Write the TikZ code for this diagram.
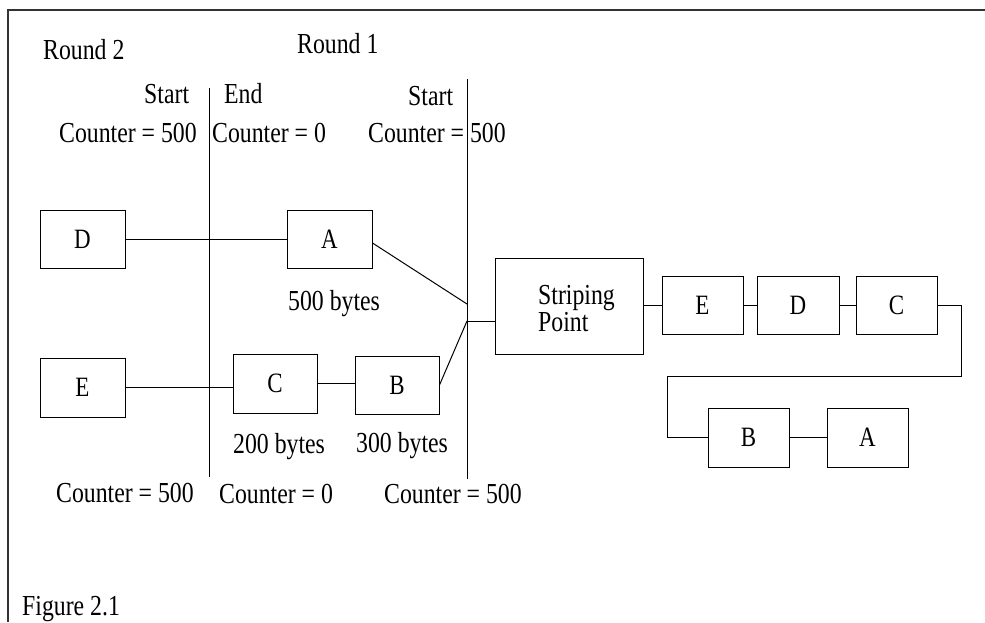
\documentclass[tikz,border=0pt]{standalone}
\usepackage{fontspec}
\setmainfont[FakeStretch=0.82]{Liberation Serif}
\begin{document}
\begin{tikzpicture}[x=1pt,y=-1pt,
  lbl/.style={anchor=base west,inner sep=0pt,font=\fontsize{29}{34}\selectfont},
  pkt/.style={draw,line width=1pt,inner sep=0pt,minimum width=84pt,minimum height=58pt,font=\fontsize{28}{34}\selectfont},
  wire/.style={line width=1pt},
  frame/.style={line width=1.6pt,draw=black!80}]
\useasboundingbox (0,0) rectangle (985,622);
% frame
\draw[frame] (985,10) -- (8,10) -- (8,622);
% round boundaries
\coordinate (L1t) at (209,88);  \coordinate (L1b) at (209,477);
\coordinate (L2t) at (467,79);  \coordinate (L2b) at (467,479);
\draw[wire] (L1t) -- (L1b);
\draw[wire] (L2t) -- (L2b);
% labels
\node[lbl] (r2) at (43,59) {Round 2};
\node[lbl] (r1) at (297,53) {Round 1};
\node[lbl] (s1) at (144,103) {Start};
\node[lbl] (e1) at (224,103) {End};
\node[lbl] (s2) at (408,105) {Start};
\node[lbl] (c1) at (59,142) {Counter = 500};
\node[lbl] (c2) at (212,142) {Counter = 0};
\node[lbl] (c3) at (368,142) {Counter = 500};
\node[lbl] (by5) at (288,310) {500 bytes};
\node[lbl] (by2) at (233,453) {200 bytes};
\node[lbl] (by3) at (356,452) {300 bytes};
\node[lbl] (c4) at (56,502) {Counter = 500};
\node[lbl] (c5) at (219,503) {Counter = 0};
\node[lbl] (c6) at (384,503) {Counter = 500};
\node[lbl] (fig) at (22,615) {Figure 2.1};
% boxes
\node[pkt,minimum width=85pt] (D2) at (82.5,239) {D};
\node[pkt,minimum width=85pt,minimum height=59pt] (E2) at (82.5,387.5) {E};
\node[pkt,minimum width=85pt] (A1) at (329.5,239) {A};
\node[pkt,minimum height=59pt] (C1) at (275,383.5) {C};
\node[pkt] (B1) at (397,385) {B};
\node[draw,line width=1pt,minimum width=148pt,minimum height=96pt] (SP) at (569,306) {};
\node[lbl] (spt1) at (538,304) {Striping};
\node[lbl] (spt2) at (538,331) {Point};
\node[pkt,minimum width=81pt] (Eo) at (702.5,305) {E};
\node[pkt,minimum width=82pt] (Do) at (798,305) {D};
\node[pkt,minimum width=81pt] (Co) at (896.5,305) {C};
\node[pkt,minimum width=81pt,minimum height=59pt] (Bo) at (748.5,437.5) {B};
\node[pkt,minimum width=81pt,minimum height=59pt] (Ao) at (867.5,437.5) {A};
% junctions on the start line
\coordinate (jA) at (467,304);
\coordinate (jB) at (467,321);
% connectors
\draw[wire] (D2.east) -- (A1.west);
\draw[wire] (E2.east) -- (C1.west |- E2.east);
\draw[wire] (C1.east) -- (B1.west |- C1.east);
\draw[wire] ([yshift=-4pt]A1.east) -- (jA);
\draw[wire] (B1.east) -- (jB);
\draw[wire] (jB) -- (jB -| SP.west);
\draw[wire] (Eo.west -| SP.east) -- (Eo.west);
\draw[wire] (Eo) -- (Do);
\draw[wire] (Do) -- (Co);
\draw[wire] (Co.east) -- ++(24,0) -- ++(0,71) -| ([xshift=-40pt]Bo.west) -- (Bo.west);
\draw[wire] (Bo) -- (Ao);
\end{tikzpicture}
\end{document}
